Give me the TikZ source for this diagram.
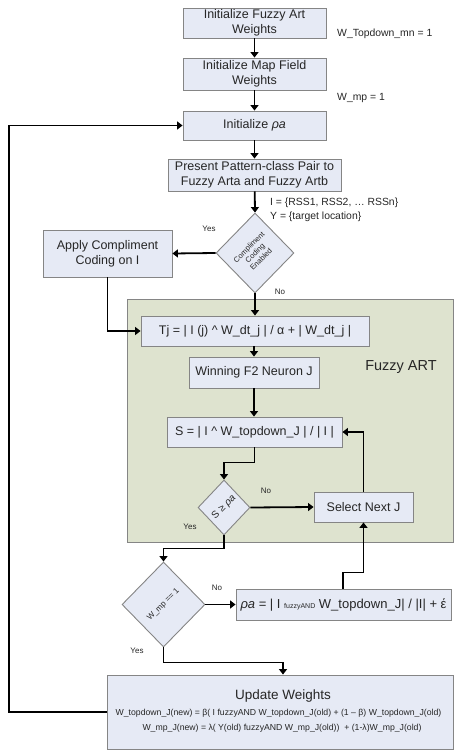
\documentclass[tikz,border=0pt]{standalone}
\usepackage{fontspec}
\setmainfont{Liberation Sans}
\usetikzlibrary{shapes.geometric,arrows.meta}
\definecolor{boxfill}{HTML}{E6EAF5}
\definecolor{boxline}{HTML}{858585}
\definecolor{panelfill}{HTML}{DEE3CF}
\definecolor{txt}{HTML}{262626}
\begin{document}
\begin{tikzpicture}[x=1pt,y=-1pt,
  box/.style={draw=boxline,fill=boxfill,line width=0.9pt,text=txt,align=center,inner sep=0pt,font=\fontsize{12.5}{15}\selectfont},
  dia/.style={draw=boxline,fill=boxfill,line width=0.9pt,diamond,inner sep=0pt},
  conn/.style={line width=1.8pt,-{Triangle[length=5.5pt,width=8pt]}},
  lbl/.style={text=txt,font=\fontsize{10.4}{12.5}\selectfont,anchor=west,inner sep=0pt},
  yn/.style={text=txt,font=\fontsize{8}{9}\selectfont,inner sep=0pt},
  dtext/.style={text=txt,align=center,inner sep=0pt,rotate=45}]
\useasboundingbox (0,0) rectangle (454,751);
% panel
\node[draw=boxline,fill=panelfill,line width=0.9pt,minimum width=326pt,minimum height=243pt,anchor=north west,inner sep=0pt] (panel) at (127,299) {};
\node[text=txt,font=\fontsize{14.5}{16}\selectfont,inner sep=0pt] (fart) at (401,367) {Fuzzy ART};
% boxes
\node[box,minimum width=143pt,minimum height=30pt] (b1) at (254.5,23) {Initialize Fuzzy Art\\Weights};
\node[box,minimum width=143pt,minimum height=32pt] (b2) at (254.5,74) {Initialize Map Field\\Weights};
\node[box,minimum width=143pt,minimum height=29pt] (b3) at (254.5,125.5) {Initialize \textit{ρa}};
\node[box,minimum width=173pt,minimum height=32pt] (b4) at (254.5,175) {Present Pattern-class Pair to\\Fuzzy Arta and Fuzzy Artb};
\node[dia,minimum width=78pt,minimum height=80pt] (d1) at (255,253) {};
\node[dtext,font=\fontsize{7.5}{8.5}\selectfont] (d1t) at (255,253) {Compliment\\Coding\\Enabled};
\node[box,minimum width=129pt,minimum height=47pt] (comp) at (107.5,253.5) {Apply Compliment\\Coding on I};
\node[box,minimum width=228pt,minimum height=30pt] (tj) at (255,331) {Tj = | I (j) \textasciicircum{} W\_dt\_j | / α + | W\_dt\_j |};
\node[box,minimum width=130pt,minimum height=31pt] (win) at (254,372.5) {Winning F2 Neuron J};
\node[box,minimum width=175pt,minimum height=30pt] (s) at (254.5,432) {S = | I \textasciicircum{} W\_topdown\_J | / | I |};
\node[dia,minimum width=52pt,minimum height=55pt] (d2) at (224,507.5) {};
\node[dtext,font=\fontsize{10}{12}\selectfont] (d2t) at (224,507.5) {S ≥ \textit{ρa}};
\node[box,minimum width=99pt,minimum height=30pt] (sel) at (363.5,507) {Select Next J};
\node[dia,minimum width=83pt,minimum height=85pt] (d3) at (163.5,604.5) {};
\node[dtext,font=\fontsize{8}{10}\selectfont] (d3t) at (163.5,604.5) {W\_mp == 1};
\node[box,minimum width=215pt,minimum height=31pt,font=\fontsize{13}{15}\selectfont] (rho) at (343.5,604.5) {\textit{ρa} = | I {\fontsize{7}{8}\selectfont fuzzyAND} W\_topdown\_J| / |I| + έ};
\node[box,minimum width=346pt,minimum height=74pt] (upd) at (280,712) {};
\node[text=txt,font=\fontsize{13.5}{15}\selectfont,inner sep=0pt] (updt) at (283,696) {Update Weights};
\node[text=txt,font=\fontsize{8.7}{10}\selectfont,inner sep=0pt] (u1) at (278.5,713) {W\_topdown\_J(new) = β( I fuzzyAND W\_topdown\_J(old) + (1 – β) W\_topdown\_J(old)};
\node[text=txt,font=\fontsize{8.7}{10}\selectfont,inner sep=0pt] (u2) at (282,728) {W\_mp\_J(new) = λ( Y(old) fuzzyAND W\_mp\_J(old))~ + (1-λ)W\_mp\_J(old)};
% labels
\node[lbl] (l1) at (337,34) {W\_Topdown\_mn = 1};
\node[lbl] (l2) at (337,98) {W\_mp = 1};
\node[lbl] (l3) at (270,203) {I = \{RSS1, RSS2, … RSSn\}};
\node[lbl] (l4) at (270,217) {Y = \{target location\}};
\node[yn] (y1) at (209,229) {Yes};
\node[yn] (n1) at (280,292) {No};
\node[yn] (n2) at (266,491) {No};
\node[yn] (y2) at (190,527) {Yes};
\node[yn] (n3) at (217,588) {No};
\node[yn] (y3) at (137,651) {Yes};
% connectors
\draw[conn] (b1) -- (b2);
\draw[conn] (b2) -- (b3);
\draw[conn] (b3) -- (b4);
\draw[conn] (b4) -- (d1.north);
\draw[conn] (d1.west) -- (comp.east);
\draw[conn] (d1.south) -- (tj.north);
\draw[conn] (comp.south) |- (tj.west);
\draw[conn] (tj.south -| win) -- (win.north);
\draw[conn] (win.south) -- (win.south |- s.north);
\draw[conn] (s.south) -- ++(0,15) -| (d2.north);
\draw[conn] (d2.east) -- (sel.west);
\draw[conn] (sel.north) |- (s.east);
\draw[conn] (d2.south) -- ++(0,13) -| (d3.north);
\draw[conn] (d3.east) -- (rho.west);
\draw[conn] ([xshift=-0.5pt]rho.north) -- ++(0,-16) -| (sel.south);
\draw[conn] (d3.south) -- ++(0,15) -| ([xshift=3pt]upd.north);
\coordinate (fb) at (9,0);
\draw[conn] (upd.west) -- (upd.west -| fb) -- (fb |- b3.west) -- (b3.west);
\end{tikzpicture}
\end{document}
